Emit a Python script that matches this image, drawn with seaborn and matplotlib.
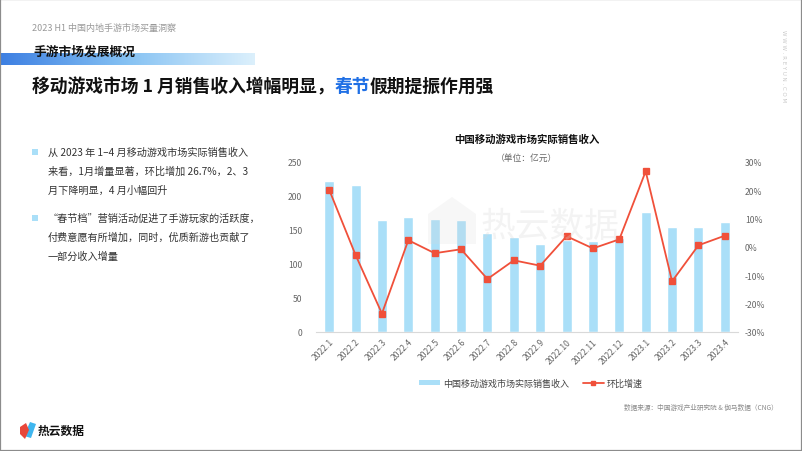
import numpy as np
import pandas as pd
import matplotlib
matplotlib.use("Agg")
import matplotlib.pyplot as plt
import seaborn as sns
from matplotlib.patches import Patch, Rectangle, Polygon
from matplotlib.lines import Line2D
from matplotlib.colors import LinearSegmentedColormap

# ---------------- data ----------------
months = ["2022.1", "2022.2", "2022.3", "2022.4", "2022.5", "2022.6", "2022.7", "2022.8",
          "2022.9", "2022.10", "2022.11", "2022.12", "2023.1", "2023.2", "2023.3", "2023.4"]
revenue = [222, 216, 165, 169, 166, 165, 146, 139, 130, 136, 134, 138, 176, 155, 155, 162]
growth = [20.2, -2.8, -23.5, 2.4, -2.2, -0.8, -11.3, -4.7, -6.6, 3.8, -0.5, 2.7, 26.7, -12.1, 0.6, 4.0]
left_ticks = [0, 50, 100, 150, 200, 250]
right_ticks = [-30, -20, -10, 0, 10, 20, 30]
bar_label = "中国移动游戏市场实际销售收入"
line_label = "环比增速"

BAR_C = "#aadff8"
LINE_C = "#f0503a"

sns.set_theme(style="white")
plt.rcParams["font.family"] = ["Noto Sans CJK SC", "DejaVu Sans"]
plt.rcParams["axes.unicode_minus"] = False

W, H = 802, 452
fig = plt.figure(figsize=(W / 100, H / 100), dpi=100)
fig.patch.set_facecolor("white")


def fx(x):
    return x / W


def fy(y):
    return 1 - y / H


# ---------------- page decorations ----------------
fig.add_artist(Rectangle((0, 0), 1, 1, transform=fig.transFigure, fill=False,
                         edgecolor="#8c8c8c", linewidth=1.6, zorder=10))

fig.text(fx(32), fy(28), "2023 H1 中国内地手游市场买量洞察", fontsize=6.5, color="#999999",
         va="center", ha="left")

# gradient band
gax = fig.add_axes([0, fy(66), fx(255), (66 - 54) / H])
grad = np.linspace(0, 1, 256).reshape(1, -1)
cmap = LinearSegmentedColormap.from_list("g", ["#3d7fe2", "#86c2f3", "#dcf0fc"])
gax.imshow(grad, aspect="auto", cmap=cmap, extent=[0, 1, 0, 1])
gax.set_axis_off()

fig.text(fx(33), fy(52), "手游市场发展概况", fontsize=9.2, fontweight="bold", color="#111111",
         va="center", ha="left", zorder=5)

# main title with coloured part
renderer = fig.canvas.get_renderer()
parts = [("移动游戏市场 1 月销售收入增幅明显，", "#111111"), ("春节", "#1f6fe5"), ("假期提振作用强", "#111111")]
xcur = 32
for txt, col in parts:
    t = fig.text(fx(xcur), fy(87), txt, fontsize=12.8, fontweight="bold", color=col,
                 va="center", ha="left")
    bb = t.get_window_extent(renderer=renderer)
    xcur += bb.width

fig.text(fx(783), fy(30), "W W W . R E Y U N . C O M", fontsize=4.0, color="#c8c8c8", rotation=-90,
         va="top", ha="center", fontfamily=["DejaVu Sans"])

# bullets
bullets = [
    (153, ["从 2023 年 1–4 月移动游戏市场实际销售收入", "来看，1月增量显著，环比增加 26.7%，2、3", "月下降明显，4 月小幅回升"]),
    (219, ["“春节档”营销活动促进了手游玩家的活跃度，", "付费意愿有所增加，同时，优质新游也贡献了", "一部分收入增量"]),
]
for y0, lines in bullets:
    fig.add_artist(Rectangle((fx(32), fy(y0 + 3)), 6 / W, 6 / H, transform=fig.transFigure,
                             facecolor=BAR_C, edgecolor="none"))
    for i, ln in enumerate(lines):
        fig.text(fx(48), fy(y0 + i * 18.7), ln, fontsize=7.3, color="#333333",
                 va="center", ha="left")

# logo
fig.add_artist(Polygon([[fx(24), fy(437)], [fx(30), fy(423)], [fx(36), fy(425)], [fx(31), fy(439)]],
                       closed=True, transform=fig.transFigure, facecolor="#3fb6ef", edgecolor="none"))
fig.add_artist(Polygon([[fx(20), fy(428)], [fx(26), fy(424)], [fx(29), fy(431)], [fx(25), fy(440)], [fx(20), fy(435)]],
                       closed=True, transform=fig.transFigure, facecolor="#e8473a", edgecolor="none"))
fig.text(fx(38), fy(431), "热云数据", fontsize=8.5, fontweight="bold", color="#111111",
         va="center", ha="left")

# ---------------- chart ----------------
ax = fig.add_axes([fx(316), fy(333), (738 - 316) / W, (333 - 163) / H])
df = pd.DataFrame({"month": months, "revenue": revenue, "growth": growth})
sns.barplot(data=df, x="month", y="revenue", color=BAR_C, saturation=1, width=0.38, ax=ax, zorder=2)
ax.set_ylim(0, 250)
ax.set_yticks(left_ticks)
ax.set_yticklabels([str(v) for v in left_ticks])
ax.set_xlabel("")
ax.set_ylabel("")
for s in ["top", "right", "left"]:
    ax.spines[s].set_visible(False)
ax.spines["bottom"].set_color("#d9d9d9")
ax.spines["bottom"].set_linewidth(0.8)
ax.tick_params(axis="both", length=0, labelsize=6.2, colors="#666666")
ax.tick_params(axis="y", pad=10)
plt.setp(ax.get_xticklabels(), rotation=45, ha="right", rotation_mode="anchor")

ax2 = ax.twinx()
sns.pointplot(data=df, x="month", y="growth", color=LINE_C, markers="s", markersize=5,
              linewidth=1.3, ax=ax2, zorder=3)
ax2.set_ylim(-30, 30)
ax2.set_yticks(right_ticks)
ax2.set_yticklabels([f"{v}%" for v in right_ticks])
ax2.set_ylabel("")
ax2.set_xlabel("")
for s in ["top", "right", "left", "bottom"]:
    ax2.spines[s].set_visible(False)
ax2.tick_params(axis="y", length=0, labelsize=6.2, colors="#666666", pad=5)
ax.set_xlim(-0.5, len(months) - 0.5)
ax2.set_xlim(-0.5, len(months) - 0.5)

# watermark
fig.text(fx(550), fy(228), "热云数据", fontsize=25, color="#d8d8d8", alpha=0.3,
         va="center", ha="center", zorder=20)
fig.add_artist(Polygon([[fx(428), fy(245)], [fx(428), fy(215)], [fx(452), fy(198)], [fx(476), fy(215)], [fx(476), fy(245)]],
                       closed=True, transform=fig.transFigure, facecolor="#d8d8d8", alpha=0.2,
                       edgecolor="none", zorder=20))

# chart titles
fig.text(fx(527), fy(140), "中国移动游戏市场实际销售收入", fontsize=7.5, fontweight="bold",
         color="#111111", va="center", ha="center")
fig.text(fx(527), fy(158), "（单位：亿元）", fontsize=6.3, color="#666666", va="center", ha="center")

# legend
handles = [Patch(facecolor=BAR_C, edgecolor="none"),
           Line2D([0], [0], color=LINE_C, linewidth=1.3, marker="s", markersize=3)]
fig.legend(handles, [bar_label, line_label], loc="center", bbox_to_anchor=(fx(531), fy(384)),
           ncol=2, frameon=False, fontsize=6.5, handlelength=2.3, handleheight=0.6,
           columnspacing=1.5, handletextpad=0.4, labelcolor="#444444")

fig.text(fx(778), fy(408), "数据来源：中国游戏产业研究院 & 伽马数据（CNG）", fontsize=4.8,
         color="#8a8a8a", va="center", ha="right")

fig.savefig("out.png", dpi=100, facecolor="white")
